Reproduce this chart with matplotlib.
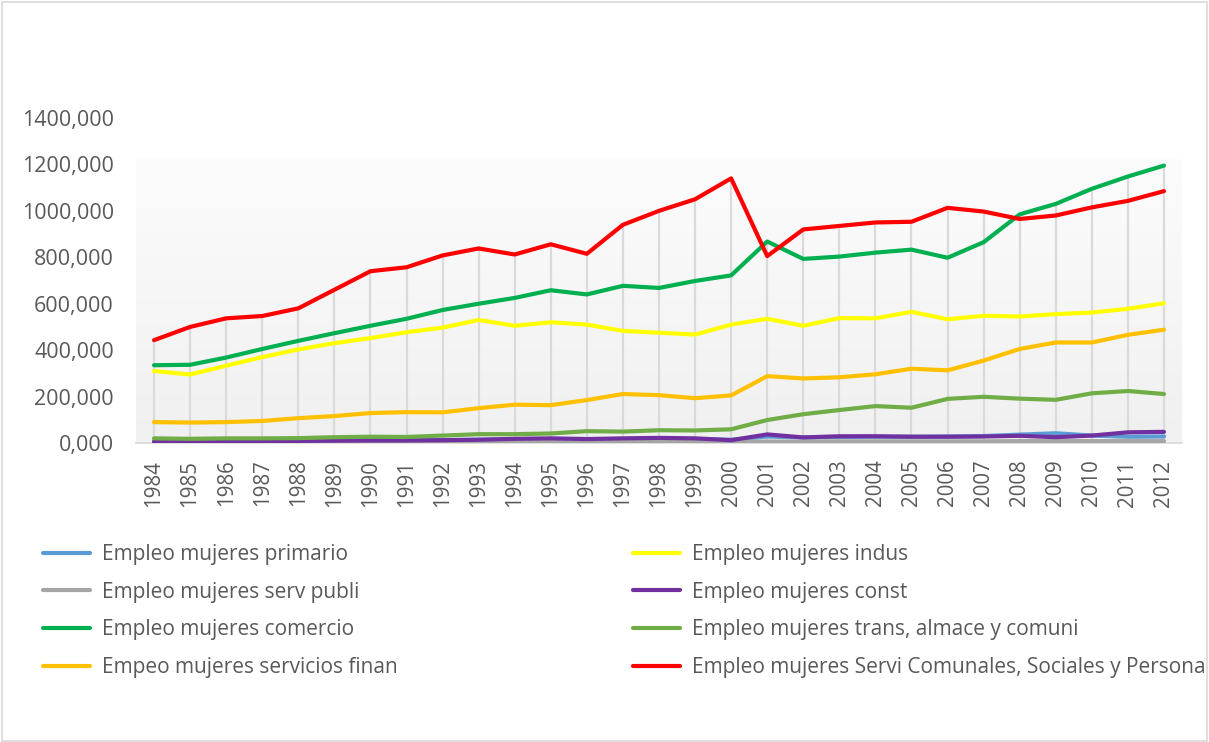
import matplotlib
matplotlib.use("Agg")
import matplotlib.pyplot as plt
from matplotlib.patches import Rectangle
import numpy as np

plt.rcParams['font.family'] = ['Open Sans', 'DejaVu Sans']

years = list(range(1984, 2013))

primario = [8, 8, 9, 9, 10, 11, 12, 12, 13, 14, 15, 15, 16, 16, 17, 17, 14, 28, 24, 26, 27, 27, 28, 30, 36, 42, 32, 27, 28]
indus = [310, 295, 333, 370, 403, 430, 452, 477, 497, 530, 505, 520, 510, 483, 475, 467, 510, 535, 505, 538, 537, 565, 533, 548, 545, 555, 562, 578, 602]
serv_publi = [3, 3, 3, 3, 4, 4, 4, 4, 5, 5, 5, 5, 5, 6, 6, 6, 6, 6, 6, 7, 7, 7, 7, 7, 8, 8, 8, 8, 8]
const = [5, 6, 7, 8, 9, 10, 11, 11, 12, 14, 18, 20, 17, 20, 22, 20, 12, 37, 24, 29, 29, 27, 27, 28, 31, 25, 32, 46, 48]
comercio = [335, 337, 368, 405, 440, 473, 505, 535, 573, 600, 625, 658, 640, 677, 668, 698, 722, 868, 793, 803, 820, 833, 798, 865, 985, 1030, 1095, 1148, 1195]
trans = [20, 18, 20, 20, 21, 25, 27, 26, 32, 38, 38, 41, 51, 49, 55, 54, 59, 99, 124, 142, 159, 152, 190, 199, 191, 186, 214, 224, 211]
finan = [90, 88, 90, 95, 107, 116, 129, 133, 132, 150, 165, 163, 185, 211, 206, 193, 205, 288, 278, 283, 296, 320, 313, 355, 405, 433, 433, 466, 488]
servi_com = [443, 500, 537, 547, 580, 660, 740, 757, 808, 838, 812, 856, 815, 940, 1000, 1050, 1140, 805, 920, 935, 950, 953, 1013, 997, 965, 980, 1015, 1043, 1085]

series = [
    ("Empleo mujeres primario", primario, "#5b9bd5"),
    ("Empleo mujeres indus", indus, "#ffff00"),
    ("Empleo mujeres serv publi", serv_publi, "#a5a5a5"),
    ("Empleo mujeres const", const, "#7030a0"),
    ("Empleo mujeres comercio", comercio, "#00b050"),
    ("Empleo mujeres trans, almace y comuni", trans, "#70ad47"),
    ("Empeo mujeres servicios finan", finan, "#ffc000"),
    ("Empleo mujeres Servi Comunales, Sociales y Persona", servi_com, "#ff0000"),
]

W, H = 1209, 742
fig = plt.figure(figsize=(W / 100, H / 100), dpi=100)
fig.patches.append(Rectangle((2 / W, 1 / H), (W - 4) / W, (H - 3) / H, transform=fig.transFigure,
                             fill=False, edgecolor="#d9d9d9", linewidth=1.2))

ax = fig.add_axes([136 / W, 1 - 443 / H, (1182 - 136) / W, (443 - 118) / H])
ax.set_xlim(1983.5, 2012.5)
ax.set_ylim(0, 1400)

# plot area gradient fill
grad = np.linspace(0, 1, 256).reshape(-1, 1)
cmap = matplotlib.colors.LinearSegmentedColormap.from_list("g", ["#f0f0f0", "#fcfcfc"])
ax.imshow(grad, extent=[1983.5, 2012.5, 0, 1220], origin="lower", aspect="auto", cmap=cmap, zorder=0)

# drop lines
top = np.max(np.array([s[1] for s in series]), axis=0)
ax.vlines(years, 0, top, colors="#dadada", linewidth=1.6, zorder=1)

handles = []
for name, vals, color in series:
    ln, = ax.plot(years, vals, color=color, linewidth=3.0, solid_capstyle="round", zorder=3, label=name)
    handles.append(ln)

for s in ["top", "left", "right"]:
    ax.spines[s].set_visible(False)
ax.spines["bottom"].set_color("#d9d9d9")
ax.spines["bottom"].set_linewidth(1.2)

ax.set_yticks(range(0, 1401, 200))
ax.set_yticklabels([f"{v},000" for v in range(0, 1401, 200)])
ax.set_xticks(years)
ax.set_xticklabels([str(y) for y in years], rotation=90)
ax.tick_params(axis="y", length=0, pad=16, labelsize=15.5, labelcolor="#595959")
ax.tick_params(axis="x", length=0, pad=12, labelsize=14.8, labelcolor="#595959")

leg_kw = dict(loc="upper left", frameon=False, fontsize=15, handlelength=2.25, handletextpad=0.6,
              labelspacing=0.8, borderaxespad=0, borderpad=0, labelcolor="#595959")
fig.legend(handles[0::2], [s[0] for s in series[0::2]], bbox_to_anchor=(43 / W, 1 - 544 / H), **leg_kw)
fig.legend(handles[1::2], [s[0] for s in series[1::2]], bbox_to_anchor=(633 / W, 1 - 544 / H), **leg_kw)

fig.savefig("out.png", dpi=100)
